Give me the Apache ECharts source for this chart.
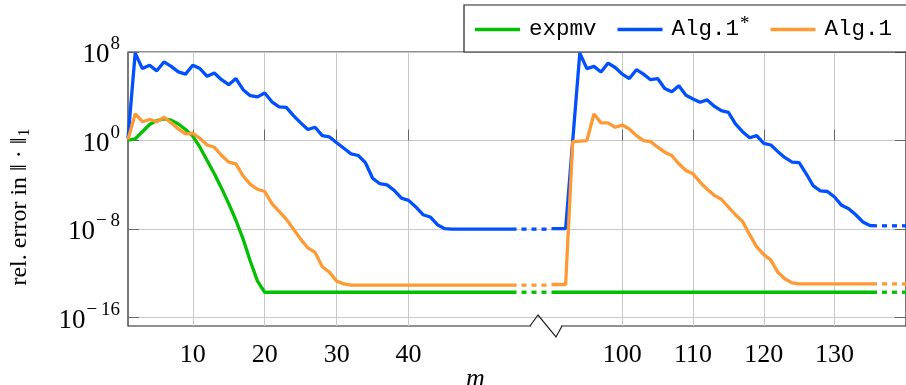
<!DOCTYPE html>
<html><head><meta charset="utf-8">
<script src="https://cdn.jsdelivr.net/npm/echarts@6/dist/echarts.min.js"></script>
<style>html,body{margin:0;padding:0;background:#fff}#c{width:906px;height:385px}</style>
</head><body><div id="c"></div>
<script>
// ---- data (values are log10 of the relative error) ----
const leftStartM = 1;     // first m of left block
const rightStartM = 90;   // first m of right block
const xTicksLeft = [10, 20, 30, 40];
const xTicksRight = [100, 110, 120, 130];
const yTicksExp = [-16, -8, 0, 8];

const expmvLeft = [0.05, 0.15, 0.8, 1.45, 1.8, 1.95, 1.85, 1.5, 1.0, 0.4,
  -0.6, -1.8, -3.0, -4.3, -5.7, -7.2, -8.9, -10.9, -12.7, -13.7,
  -13.7, -13.7, -13.7, -13.7, -13.7, -13.7, -13.7, -13.7, -13.7, -13.7,
  -13.7, -13.7, -13.7, -13.7, -13.7, -13.7, -13.7, -13.7, -13.7, -13.7,
  -13.7, -13.7, -13.7, -13.7, -13.7, -13.7, -13.7, -13.7, -13.7, -13.7,
  -13.7, -13.7, -13.7, -13.7, -13.7];
const alg1StarLeft = [0.2, 7.9, 6.5, 6.8, 6.3, 7.1, 6.7, 6.2, 6.0, 6.8,
  6.5, 5.8, 6.1, 5.5, 5.05, 5.6, 4.6, 4.05, 3.95, 4.3,
  3.5, 3.05, 3.0, 2.25, 1.6, 1.0, 1.2, 0.45, 0.33, -0.2,
  -0.7, -1.2, -1.35, -2.0, -3.4, -3.9, -4.0, -4.5, -5.2, -5.4,
  -6.0, -6.7, -6.9, -7.6, -7.95, -8.0, -8.0, -8.0, -8.0, -8.0,
  -8.0, -8.0, -8.0, -8.0, -8.0];
const alg1Left = [0.1, 2.4, 1.7, 1.9, 1.7, 2.1, 1.6, 1.05, 0.6, 0.66,
  0.2, -0.4, -0.6, -1.35, -1.95, -2.1, -3.2, -3.95, -4.4, -4.6,
  -5.7, -6.4, -7.1, -8.0, -8.9, -9.7, -10.1, -11.4, -11.9, -12.7,
  -12.95, -13.05, -13.05, -13.05, -13.05, -13.05, -13.05, -13.05, -13.05, -13.05,
  -13.05, -13.05, -13.05, -13.05, -13.05, -13.05, -13.05, -13.05, -13.05, -13.05,
  -13.05, -13.05, -13.05, -13.05, -13.05];

const expmvRight = [-13.7, -13.7, -13.7, -13.7, -13.7, -13.7, -13.7, -13.7, -13.7, -13.7,
  -13.7, -13.7, -13.7, -13.7, -13.7, -13.7, -13.7, -13.7, -13.7, -13.7,
  -13.7, -13.7, -13.7, -13.7, -13.7, -13.7, -13.7, -13.7, -13.7, -13.7,
  -13.7, -13.7, -13.7, -13.7, -13.7, -13.7, -13.7, -13.7, -13.7, -13.7,
  -13.7, -13.7, -13.7, -13.7, -13.7, -13.7, -13.7];
const alg1StarRight = [-7.95, -7.95, -7.95, 0.0, 7.9, 6.5, 6.7, 6.2, 7.0, 6.6,
  6.0, 5.6, 6.4, 6.0, 5.5, 5.6, 4.7, 4.4, 4.96, 4.1,
  3.76, 3.46, 3.67, 3.1, 2.7, 2.55, 1.5, 0.8, 0.25, 0.45,
  -0.25, -0.4, -1.0, -1.55, -1.95, -2.0, -3.0, -4.1, -4.55, -4.6,
  -5.1, -5.85, -6.15, -6.7, -7.35, -7.67, -7.7];
const alg1Right = [-13.0, -13.0, -13.0, -0.1, -0.05, 0.0, 2.4, 1.6, 1.6, 1.2,
  1.4, 1.05, 0.45, 0.0, -0.1, -0.6, -1.05, -1.35, -2.1, -2.7,
  -3.0, -3.75, -4.4, -4.95, -5.3, -6.0, -6.7, -7.3, -8.5, -9.6,
  -10.3, -10.8, -11.9, -12.5, -12.85, -12.95, -12.95, -12.95, -12.95, -12.95,
  -12.95, -12.95, -12.95, -12.95, -12.95, -12.95, -12.95];

// dotted continuation extents (in m units of the respective axis block)
const bridgeLeftEnd = 59.85;
const tailRightEnd = 141;

const names = ['expmv', 'Alg.1*', 'Alg.1'];
const colors = ['#00c000', '#0050ff', '#ff9933'];
const leftSets = [expmvLeft, alg1StarLeft, alg1Left];
const rightSets = [expmvRight, alg1StarRight, alg1Right];

// ---- chart ----
const serif = 'Liberation Serif';
const pts = (start, arr) => arr.map((v, i) => [start + i, v]);
const series = [];
names.forEach((nm, k) => {
  const base = {name: nm, type: 'line', symbol: 'none', showSymbol: false, animation: false, z: 2 + k,
    lineStyle: {color: colors[k], width: 3.3}, itemStyle: {color: colors[k]}};
  const L = leftSets[k], R = rightSets[k];
  const lastL = leftStartM + L.length - 1, lastR = rightStartM + R.length - 1;
  series.push(Object.assign({}, base, {xAxisIndex: 0, data: pts(leftStartM, L)}));
  series.push(Object.assign({}, base, {xAxisIndex: 0,
    lineStyle: {color: colors[k], width: 3.3, type: [5, 5], dashOffset: 5},
    data: [[lastL, L[L.length - 1]], [bridgeLeftEnd, L[L.length - 1]]]}));
  series.push(Object.assign({}, base, {xAxisIndex: 1, data: pts(rightStartM, R)}));
  series.push(Object.assign({}, base, {xAxisIndex: 1,
    lineStyle: {color: colors[k], width: 3.3, type: [5, 5], dashOffset: 5},
    data: [[lastR, R[R.length - 1]], [tailRightEnd, R[R.length - 1]]]}));
});

const xCommon = {
  type: 'value', position: 'bottom', gridIndex: 0,
  axisLine: {show: false},
  axisTick: {show: true, inside: true, length: 11, lineStyle: {color: '#666', width: 1}},
  splitLine: {show: true, lineStyle: {color: '#c8c8c8', width: 1}},
  axisLabel: {fontFamily: serif, fontSize: 26, color: '#000', margin: 16}
};

const chart = echarts.init(document.getElementById('c'), null, {renderer: 'canvas'});
chart.setOption({
  animation: false,
  backgroundColor: '#fff',
  grid: {left: 128, right: -7, top: 52, bottom: 59, show: true, borderColor: '#222', borderWidth: 1.2, containLabel: false},
  legend: {
    data: names, left: 464, top: 5, width: 560, orient: 'horizontal',
    icon: 'rect', itemWidth: 45, itemHeight: 3.5, itemGap: 21,
    padding: [10, 40, 11, 11], borderColor: '#222', borderWidth: 1.2, backgroundColor: '#fff',
    selectedMode: false,
    formatter: n => n === 'Alg.1*' ? '{t|Alg.1}{s|*}' : '{t|' + n + '}',
    textStyle: {
      rich: {
        t: {fontFamily: 'Liberation Mono', fontSize: 22.5, color: '#000', padding: [0, 0, 0, 4]},
        s: {fontFamily: serif, fontSize: 19, color: '#000', padding: [0, 18, 10, 1]}
      }
    }
  },
  xAxis: [
    Object.assign({}, xCommon, {min: 1, max: 109.13,
      axisTick: Object.assign({}, xCommon.axisTick, {customValues: xTicksLeft}),
      axisLabel: Object.assign({}, xCommon.axisLabel, {customValues: xTicksLeft})}),
    Object.assign({}, xCommon, {min: 30.15, max: 140.1,
      axisTick: Object.assign({}, xCommon.axisTick, {customValues: xTicksRight}),
      axisLabel: Object.assign({}, xCommon.axisLabel, {customValues: xTicksRight})})
  ],
  yAxis: [{
    type: 'value', min: -16.75, max: 8, position: 'left',
    axisLine: {show: false},
    axisTick: {show: true, inside: true, length: 11, customValues: yTicksExp, lineStyle: {color: '#666'}},
    splitLine: {show: true, lineStyle: {color: '#c8c8c8', width: 1}},
    axisLabel: {
      customValues: yTicksExp, margin: 8,
      formatter: v => '{b|10}{s|' + (v < 0 ? '\u2212\u2009' + (-v) : String(v)) + '}',
      rich: {
        b: {fontFamily: serif, fontSize: 27, color: '#000', padding: [6, 0, 0, 0]},
        s: {fontFamily: serif, fontSize: 19, color: '#000', padding: [0, 0, 16, 1]}
      }
    },
    name: '{a|rel. error in \u2016 \u00b7 \u2016}{u|1}',
    nameLocation: 'middle', nameRotate: 90, nameGap: 95,
    nameTextStyle: {
      padding: [0, 0, 0, -36],
      rich: {
        a: {fontFamily: serif, fontSize: 24, color: '#000'},
        u: {fontFamily: serif, fontSize: 16, color: '#000', padding: [10, 0, 0, 1]}
      }
    }
  }, {
    type: 'value', min: -16.75, max: 8, position: 'right',
    axisLine: {show: false}, splitLine: {show: false}, axisLabel: {show: false},
    axisTick: {show: true, inside: true, length: 11, customValues: yTicksExp, lineStyle: {color: '#666'}}
  }],
  series: series,
  graphic: [
    {type: 'rect', shape: {x: 531, y: 322, width: 30, height: 8}, style: {fill: '#fff'}, z: 100},
    {type: 'polyline', shape: {points: [[530, 326], [538, 315], [556, 337], [562, 326]]},
      style: {stroke: '#222', lineWidth: 1.2, fill: null}, z: 101},
    {type: 'text', left: 466, top: 366, style: {text: 'm', font: 'italic 26px "Liberation Serif"', fill: '#000'}, z: 101}
  ]
});
</script></body></html>
